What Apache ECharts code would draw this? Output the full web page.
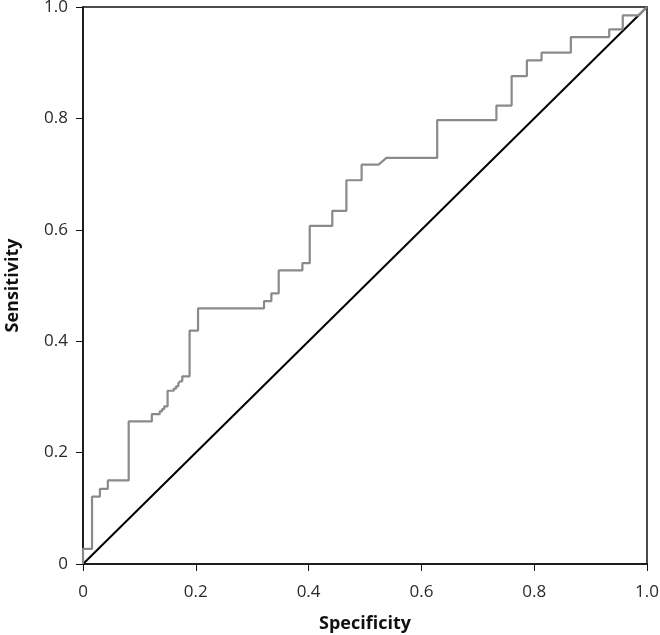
<!DOCTYPE html>
<html>
<head>
<meta charset="utf-8">
<script src="https://cdn.jsdelivr.net/npm/echarts@6/dist/echarts.min.js"></script>
<style>html,body{margin:0;padding:0;background:#fff}#c{width:660px;height:635px}</style>
</head>
<body>
<div id="c"></div>
<script>
// ROC curve vertices (specificity axis value, sensitivity)
var rocSpec = [0,0,0.016,0.016,0.030,0.030,0.044,0.044,0.081,0.081,0.122,0.122,0.136,0.136,0.140,0.140,0.144,0.144,0.150,0.150,0.161,0.161,0.165,0.165,0.169,0.169,0.172,0.172,0.176,0.176,0.189,0.189,0.204,0.204,0.321,0.321,0.334,0.334,0.347,0.347,0.389,0.389,0.402,0.402,0.442,0.442,0.467,0.467,0.494,0.494,0.524,0.538,0.628,0.628,0.733,0.733,0.760,0.760,0.787,0.787,0.813,0.813,0.865,0.865,0.933,0.933,0.957,0.957,0.985,1];
var rocSens = [0,0.027,0.027,0.121,0.121,0.135,0.135,0.150,0.150,0.256,0.256,0.269,0.269,0.274,0.274,0.278,0.278,0.283,0.283,0.311,0.311,0.315,0.315,0.319,0.319,0.324,0.324,0.328,0.328,0.337,0.337,0.419,0.419,0.459,0.459,0.472,0.472,0.486,0.486,0.527,0.527,0.540,0.540,0.607,0.607,0.634,0.634,0.689,0.689,0.717,0.717,0.729,0.729,0.797,0.797,0.823,0.823,0.876,0.876,0.904,0.904,0.918,0.918,0.946,0.946,0.960,0.960,0.985,0.985,1];
var refSpec = [0,1];
var refSens = [0,1];
var tickValues = [0,0.2,0.4,0.6,0.8,1.0];
var xTitle = 'Specificity';
var yTitle = 'Sensitivity';

function pairs(a,b){var o=[];for(var i=0;i<a.length;i++)o.push([a[i],b[i]]);return o;}
function fmt(v){return v===0?'0':v.toFixed(1);}

var chart = echarts.init(document.getElementById('c'), null, {renderer:'canvas'});
var font = '"Open Sans", "Noto Sans", sans-serif';
var axisCommon = {
  type:'value', min:0, max:1, interval:0.2,
  axisLine:{show:true, onZero:false, lineStyle:{color:'#111', width:1.5}},
  axisTick:{show:true, inside:false, length:7, lineStyle:{color:'#111', width:1}},
  splitLine:{show:false},
  axisLabel:{formatter:fmt, color:'#2a2a2a', fontSize:17, fontFamily:font},
  nameLocation:'middle',
  nameTextStyle:{color:'#111', fontSize:18, fontWeight:'bold', fontFamily:font}
};
chart.setOption({
  animation:false,
  backgroundColor:'#fff',
  grid:{left:83, right:13, top:7, bottom:71, show:true, borderColor:'#111', borderWidth:1.5,
        containLabel:false, outerBoundsMode:'none'},
  xAxis:Object.assign({}, axisCommon, {name:xTitle, nameGap:51,
    axisLabel:Object.assign({}, axisCommon.axisLabel, {margin:20})}),
  yAxis:Object.assign({}, axisCommon, {name:yTitle, nameGap:61,
    axisLabel:Object.assign({}, axisCommon.axisLabel, {margin:15})}),
  series:[
    {type:'line', data:pairs(refSpec,refSens), symbol:'none', lineStyle:{color:'#000', width:2}, z:2},
    {type:'line', data:pairs(rocSpec,rocSens), symbol:'none', lineStyle:{color:'#8a8a8a', width:2.2}, z:3}
  ]
});
</script>
</body>
</html>
